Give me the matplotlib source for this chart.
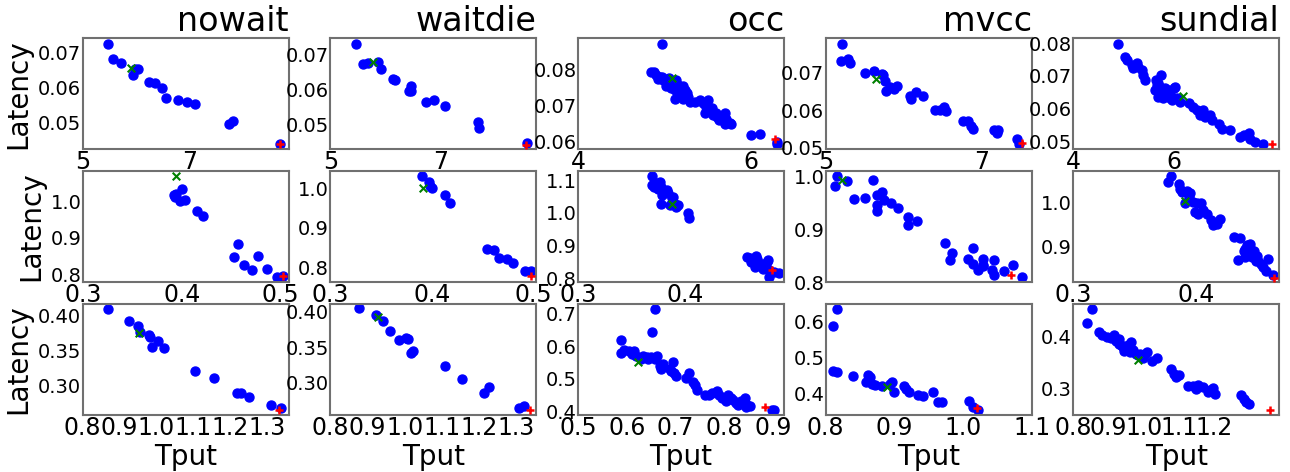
import matplotlib
matplotlib.use('Agg')
import matplotlib.pyplot as plt

systems = ['nowait', 'waitdie', 'occ', 'mvcc', 'sundial']

# ---- row 1 ----
nowait_t1 = [5.48, 5.575, 5.72, 5.98, 6.04, 5.95, 6.25, 6.36, 6.49, 6.56, 6.79, 6.96, 7.11, 7.74, 7.81, 8.70]
nowait_l1 = [0.0725, 0.0680, 0.0669, 0.0653, 0.0652, 0.0635, 0.0616, 0.0614, 0.0599, 0.0571, 0.0564, 0.0558, 0.0554, 0.0495, 0.0506, 0.0440]
waitdie_t1 = [5.46, 5.60, 5.68, 5.87, 5.92, 6.14, 6.17, 6.42, 6.46, 6.47, 6.73, 6.88, 7.08, 7.68, 7.70, 8.57]
waitdie_l1 = [0.0731, 0.0671, 0.0676, 0.0679, 0.0659, 0.0630, 0.0626, 0.0595, 0.0608, 0.0595, 0.0562, 0.0570, 0.0552, 0.0505, 0.0489, 0.0445]
occ_t1 = [4.97, 4.85, 4.88, 4.91, 4.95, 4.93, 4.99, 5.03, 5.02, 5.06, 5.10, 5.14, 5.16, 5.18, 5.22, 5.24, 5.26, 5.28,
          5.13, 5.22, 5.36, 5.41, 5.45, 5.51, 5.49, 5.47, 5.53, 5.57, 5.61, 5.64, 5.71, 5.72, 5.70, 5.76, 5.78, 6.01,
          6.11, 6.31, 6.31, 5.08, 5.12, 5.20, 5.30, 5.55, 5.60, 5.66, 4.98, 5.05]
occ_l1 = [0.0873, 0.0795, 0.0793, 0.0786, 0.0781, 0.0775, 0.0772, 0.0767, 0.0755, 0.0763, 0.0767, 0.0772, 0.0758, 0.0752,
          0.0755, 0.0744, 0.0735, 0.0726, 0.0720, 0.0718, 0.0710, 0.0716, 0.0707, 0.0716, 0.0698, 0.0679, 0.0688, 0.0674,
          0.0670, 0.0660, 0.0679, 0.0665, 0.0649, 0.0653, 0.0651, 0.0619, 0.0623, 0.0600, 0.0593, 0.0750, 0.0745, 0.0740,
          0.0712, 0.0693, 0.0680, 0.0670, 0.0780, 0.0778]
mvcc_t1 = [5.21, 5.20, 5.28, 5.31, 5.51, 5.62, 5.72, 5.74, 5.76, 5.77, 5.82, 5.87, 5.92, 6.08, 6.09, 6.16, 6.25, 6.40,
           6.47, 6.52, 6.54, 6.76, 6.83, 6.86, 6.89, 7.16, 7.19, 7.21, 7.45, 7.48]
mvcc_l1 = [0.0779, 0.0733, 0.0738, 0.0726, 0.0701, 0.0705, 0.0697, 0.0695, 0.0679, 0.0653, 0.0662, 0.0656, 0.0665, 0.0637,
           0.0629, 0.0650, 0.0637, 0.0601, 0.0601, 0.0610, 0.0598, 0.0570, 0.0570, 0.0558, 0.0551, 0.0547, 0.0540, 0.0547,
           0.0522, 0.0510]
sundial_t1 = [4.89, 5.03, 5.06, 5.16, 5.19, 5.26, 5.29, 5.36, 5.39, 5.42, 5.64, 5.69, 5.75, 5.72, 5.79, 5.85, 5.92, 5.95,
              6.02, 6.05, 6.12, 6.30, 6.38, 6.45, 6.52, 6.58, 6.62, 6.72, 6.75, 6.90, 6.95, 7.11, 7.31, 7.38, 7.48, 7.51,
              7.61, 7.77, 5.66, 5.75, 5.82, 5.89, 5.69, 5.79, 5.92, 5.99, 5.62]
sundial_l1 = [0.0799, 0.0759, 0.0749, 0.0733, 0.0723, 0.0739, 0.0728, 0.0718, 0.0703, 0.0687, 0.0687, 0.0677, 0.0703,
              0.0667, 0.0657, 0.0641, 0.0646, 0.0626, 0.0665, 0.0631, 0.0621, 0.0616, 0.0606, 0.0596, 0.0580, 0.0596,
              0.0575, 0.0580, 0.0565, 0.0554, 0.0539, 0.0534, 0.0513, 0.0519, 0.0524, 0.0508, 0.0498, 0.0491, 0.0672,
              0.0657, 0.0662, 0.0657, 0.0636, 0.0631, 0.0631, 0.0662, 0.0657]

# ---- row 2 ----
nowait_t2 = [0.392, 0.394, 0.393, 0.400, 0.398, 0.403, 0.415, 0.421, 0.453, 0.457, 0.463, 0.471, 0.477, 0.486, 0.496, 0.502]
nowait_l2 = [1.017, 1.019, 1.011, 1.033, 1.000, 1.002, 0.972, 0.958, 0.848, 0.882, 0.825, 0.812, 0.851, 0.815, 0.794, 0.796]
waitdie_t2 = [0.390, 0.397, 0.398, 0.400, 0.413, 0.418, 0.454, 0.461, 0.466, 0.474, 0.480, 0.492, 0.498]
waitdie_l2 = [1.031, 1.017, 1.006, 1.000, 0.982, 0.964, 0.848, 0.844, 0.825, 0.821, 0.811, 0.792, 0.792]
occ_t2 = [0.369, 0.369, 0.373, 0.375, 0.377, 0.378, 0.380, 0.379, 0.383, 0.378, 0.388, 0.389, 0.386, 0.391, 0.392, 0.394,
          0.403, 0.404, 0.458, 0.461, 0.464, 0.467, 0.469, 0.470, 0.466, 0.472, 0.473, 0.477, 0.478, 0.479, 0.479, 0.484,
          0.488, 0.462, 0.468, 0.475, 0.371, 0.384]
occ_l2 = [1.112, 1.086, 1.090, 1.074, 1.095, 1.079, 1.069, 1.054, 1.069, 1.028, 1.044, 1.049, 1.023, 1.028, 1.018, 1.023,
          1.000, 0.983, 0.866, 0.861, 0.856, 0.868, 0.850, 0.845, 0.835, 0.837, 0.830, 0.850, 0.856, 0.825, 0.805, 0.820,
          0.815, 0.850, 0.860, 0.843, 1.078, 1.060]
mvcc_t2 = [0.309, 0.310, 0.314, 0.317, 0.322, 0.325, 0.327, 0.327, 0.327, 0.329, 0.330, 0.333, 0.336, 0.340, 0.340, 0.344,
           0.356, 0.358, 0.359, 0.366, 0.368, 0.368, 0.370, 0.372, 0.372, 0.372, 0.376, 0.377, 0.377, 0.381, 0.385, 0.389]
mvcc_l2 = [0.983, 1.001, 0.992, 0.958, 0.960, 0.994, 0.965, 0.946, 0.935, 0.971, 0.956, 0.950, 0.941, 0.924, 0.909, 0.917,
           0.874, 0.841, 0.856, 0.843, 0.865, 0.835, 0.822, 0.843, 0.830, 0.832, 0.823, 0.813, 0.841, 0.821, 0.833, 0.810]
sundial_t2 = [0.377, 0.380, 0.386, 0.387, 0.389, 0.393, 0.395, 0.391, 0.394, 0.398, 0.401, 0.404, 0.399, 0.402, 0.406,
              0.409, 0.412, 0.414, 0.417, 0.420, 0.431, 0.436, 0.434, 0.439, 0.442, 0.444, 0.443, 0.446, 0.447, 0.450,
              0.451, 0.453, 0.455, 0.459, 0.457, 0.463, 0.440, 0.444, 0.440, 0.449, 0.445]
sundial_l2 = [1.048, 1.061, 1.042, 1.032, 1.025, 1.027, 1.021, 0.998, 1.013, 1.002, 0.998, 0.998, 0.978, 0.975, 0.982,
              0.975, 0.959, 0.948, 0.952, 0.963, 0.921, 0.919, 0.868, 0.890, 0.902, 0.905, 0.882, 0.875, 0.890, 0.878,
              0.867, 0.859, 0.852, 0.871, 0.844, 0.834, 0.894, 0.896, 0.875, 0.867, 0.885]

# ---- row 3 ----
nowait_t3 = [0.868, 0.926, 0.949, 0.955, 0.981, 0.983, 0.987, 1.005, 1.021, 1.104, 1.157, 1.220, 1.230, 1.250, 1.311, 1.337]
nowait_l3 = [0.410, 0.392, 0.386, 0.376, 0.372, 0.369, 0.355, 0.364, 0.353, 0.321, 0.311, 0.289, 0.288, 0.283, 0.271, 0.267]
waitdie_t3 = [0.878, 0.924, 0.943, 0.960, 0.985, 1.004, 1.009, 1.018, 1.023, 1.108, 1.154, 1.214, 1.226, 1.308, 1.320]
waitdie_l3 = [0.404, 0.394, 0.386, 0.372, 0.360, 0.362, 0.361, 0.342, 0.344, 0.323, 0.306, 0.286, 0.294, 0.265, 0.268]
occ_t3 = [0.659, 0.652, 0.589, 0.589, 0.595, 0.605, 0.615, 0.620, 0.629, 0.634, 0.641, 0.644, 0.649, 0.659, 0.663, 0.668,
          0.671, 0.688, 0.690, 0.696, 0.697, 0.702, 0.722, 0.727, 0.736, 0.741, 0.744, 0.770, 0.775, 0.785, 0.790, 0.795,
          0.804, 0.809, 0.814, 0.819, 0.824, 0.829, 0.834, 0.843, 0.848, 0.853, 0.902, 0.898, 0.845, 0.760, 0.675, 0.610]
occ_l3 = [0.713, 0.645, 0.619, 0.578, 0.589, 0.586, 0.586, 0.571, 0.562, 0.571, 0.566, 0.560, 0.568, 0.562, 0.569, 0.540,
          0.531, 0.531, 0.524, 0.552, 0.517, 0.509, 0.504, 0.517, 0.490, 0.480, 0.467, 0.452, 0.457, 0.462, 0.450, 0.441,
          0.431, 0.452, 0.441, 0.436, 0.426, 0.421, 0.431, 0.441, 0.421, 0.416, 0.405, 0.405, 0.415, 0.452, 0.545, 0.575]
mvcc_t3 = [0.811, 0.817, 0.810, 0.816, 0.840, 0.858, 0.861, 0.865, 0.868, 0.872, 0.882, 0.893, 0.896, 0.900, 0.914, 0.917,
           0.921, 0.935, 0.942, 0.956, 0.963, 0.970, 1.008, 1.015, 1.022]
mvcc_l3 = [0.589, 0.636, 0.464, 0.461, 0.450, 0.431, 0.452, 0.445, 0.426, 0.423, 0.422, 0.426, 0.431, 0.403, 0.420, 0.412,
           0.403, 0.395, 0.393, 0.403, 0.377, 0.377, 0.378, 0.361, 0.354]
sundial_t3 = [0.853, 0.840, 0.874, 0.881, 0.895, 0.908, 0.915, 0.922, 0.929, 0.936, 0.942, 0.949, 0.956, 0.963, 0.970,
              0.977, 0.984, 0.990, 0.997, 1.004, 1.011, 1.025, 1.038, 1.079, 1.086, 1.093, 1.100, 1.127, 1.141, 1.148,
              1.155, 1.168, 1.182, 1.196, 1.203, 1.278, 1.285, 1.292, 1.299, 0.930, 0.945, 0.960, 1.190]
sundial_l3 = [0.454, 0.428, 0.410, 0.403, 0.400, 0.397, 0.403, 0.393, 0.387, 0.384, 0.380, 0.377, 0.384, 0.390, 0.374,
              0.367, 0.364, 0.367, 0.358, 0.367, 0.371, 0.354, 0.359, 0.337, 0.328, 0.322, 0.325, 0.305, 0.304, 0.299,
              0.307, 0.302, 0.292, 0.300, 0.289, 0.286, 0.279, 0.273, 0.269, 0.395, 0.372, 0.370, 0.296]

# green x and red + markers per row (tput, latency) in systems order
green_r1 = [(5.90, 0.0655), (5.77, 0.0679), (5.09, 0.0777), (5.65, 0.0685), (6.17, 0.0638)]
red_r1 = [(8.70, 0.0440), (8.55, 0.0440), (6.29, 0.0608), (7.52, 0.0513), (7.94, 0.0493)]
green_r2 = [(0.394, 1.067), (0.391, 1.000), (0.388, 1.028), (0.312, 0.995), (0.391, 1.004)]
red_r2 = [(0.502, 0.795), (0.498, 0.779), (0.482, 0.827), (0.384, 0.814), (0.464, 0.828)]
green_r3 = [(0.953, 0.375), (0.927, 0.392), (0.623, 0.552), (0.889, 0.417), (0.984, 0.356)]
red_r3 = [(1.332, 0.264), (1.336, 0.263), (0.885, 0.413), (1.020, 0.358), (1.360, 0.258)]

# axis limits and ticks
xlims = [[(5.0, 8.86), (5.0, 8.73), (4.0, 6.39), (5.0, 7.64), (4.0, 8.09)],
         [(0.3, 0.508), (0.3, 0.503), (0.3, 0.493), (0.305, 0.393), (0.3, 0.468)],
         [(0.8, 1.359), (0.8, 1.354), (0.5, 0.923), (0.8, 1.1), (0.8, 1.386)]]
ylims = [[(0.0425, 0.074), (0.0428, 0.0746), (0.058, 0.0888), (0.0496, 0.0793), (0.0476, 0.0815)],
         [(0.780, 1.081), (0.764, 1.043), (0.789, 1.127), (0.800, 1.011), (0.818, 1.072)],
         [(0.257, 0.417), (0.2556, 0.4098), (0.390, 0.729), (0.340, 0.650), (0.248, 0.464)]]
xticks = [[[5, 7], [5, 7], [4, 6], [5, 7], [4, 6]],
          [[0.3, 0.4, 0.5], [0.3, 0.4, 0.5], [0.3, 0.4], [], [0.3, 0.4]],
          [[0.8, 0.9, 1.0, 1.1, 1.2, 1.3], [0.8, 0.9, 1.0, 1.1, 1.2, 1.3], [0.5, 0.6, 0.7, 0.8, 0.9],
           [0.8, 0.9, 1.0, 1.1], [0.8, 0.9, 1.0, 1.1, 1.2]]]
yticks = [[[0.05, 0.06, 0.07], [0.05, 0.06, 0.07], [0.06, 0.07, 0.08], [0.05, 0.06, 0.07], [0.05, 0.06, 0.07, 0.08]],
          [[0.8, 0.9, 1.0], [0.8, 0.9, 1.0], [0.8, 0.9, 1.0, 1.1], [0.8, 0.9, 1.0], [0.9, 1.0]],
          [[0.30, 0.35, 0.40], [0.30, 0.35, 0.40], [0.4, 0.5, 0.6, 0.7], [0.4, 0.5, 0.6], [0.3, 0.4]]]

rows = [
    [(nowait_t1, nowait_l1), (waitdie_t1, waitdie_l1), (occ_t1, occ_l1), (mvcc_t1, mvcc_l1), (sundial_t1, sundial_l1)],
    [(nowait_t2, nowait_l2), (waitdie_t2, waitdie_l2), (occ_t2, occ_l2), (mvcc_t2, mvcc_l2), (sundial_t2, sundial_l2)],
    [(nowait_t3, nowait_l3), (waitdie_t3, waitdie_l3), (occ_t3, occ_l3), (mvcc_t3, mvcc_l3), (sundial_t3, sundial_l3)],
]
greens = [green_r1, green_r2, green_r3]
reds = [red_r1, red_r2, red_r3]

fig = plt.figure(figsize=(12.9, 4.72), dpi=100)
W, H = 1290.0, 472.0
col_left = [82.7, 330.3, 578.0, 825.7, 1073.3]
row_top = [38.3, 171.2, 304.1]
aw, ah = 206.0, 110.8

for r in range(3):
    for c in range(5):
        ax = fig.add_axes([col_left[c] / W, 1 - (row_top[r] + ah) / H, aw / W, ah / H])
        t, l = rows[r][c]
        ax.scatter(t, l, s=42, c='blue', zorder=2)
        gx, gy = greens[r][c]
        ax.scatter([gx], [gy], marker='x', s=30, c='green', linewidths=1.5, zorder=3)
        rx, ry = reds[r][c]
        ax.scatter([rx], [ry], marker='+', s=40, c='red', linewidths=1.8, zorder=4)
        ax.set_xlim(*xlims[r][c])
        ax.set_ylim(*ylims[r][c])
        ax.set_xticks(xticks[r][c])
        ax.set_yticks(yticks[r][c])
        ax.tick_params(axis='x', labelsize=17, length=0, pad=1)
        ax.tick_params(axis='y', labelsize=14, length=0, pad=1)
        for sp in ax.spines.values():
            sp.set_edgecolor('#707070')
            sp.set_linewidth(1.5)
        if r == 0:
            ax.set_title(systems[c], loc='right', fontsize=24, pad=4)
        if c == 0:
            ax.set_ylabel('Latency', fontsize=20)
        if r == 2:
            ax.set_xlabel('Tput', fontsize=20, labelpad=2)

fig.savefig('out.png', dpi=100)
